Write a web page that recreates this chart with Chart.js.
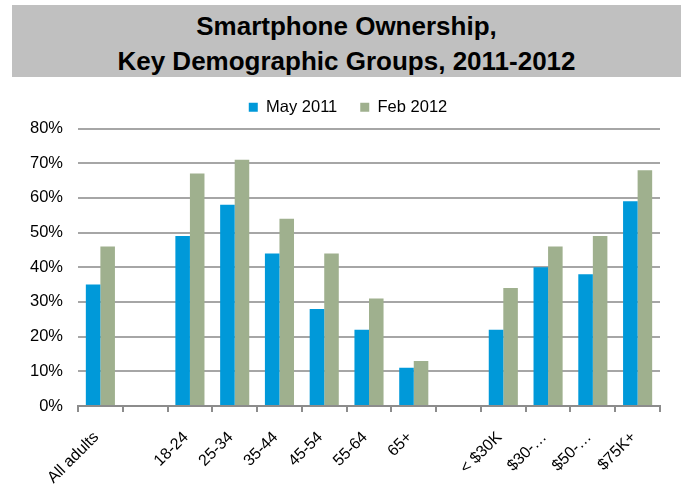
<!DOCTYPE html>
<html>
<head>
<meta charset="utf-8">
<script src="https://cdn.jsdelivr.net/npm/chart.js@4.4.0/dist/chart.umd.min.js"></script>
<style>
  html, body { margin: 0; padding: 0; background: #fff; }
  #wrap { position: relative; width: 681px; height: 495px; }
  #titleBand {
    position: absolute; left: 12px; top: 5px; width: 669px; height: 72px;
    background: #c0c0c0; color: #000;
    font-family: "Liberation Sans", Arial, sans-serif; font-weight: bold; font-size: 26px;
    line-height: 35px; text-align: center; padding-top: 4px; box-sizing: border-box;
  }
  #chartBox { position: absolute; left: 0; top: 0; width: 681px; height: 495px; }
</style>
</head>
<body>
<div id="wrap">
  <div id="chartBox"><canvas id="ownChart" width="681" height="495"></canvas></div>
  <div id="titleBand">Smartphone Ownership,<br>Key Demographic Groups, 2011-2012</div>
</div>
<script>
// categories (empty entries are the spacer gaps between groups)
var groups = ["All adults", "", "18-24", "25-34", "35-44", "45-54", "55-64", "65+", "", "< $30K", "$30-…", "$50-…", "$75K+"];
var may2011 = [35, null, 49, 58, 44, 28, 22, 11, null, 22, 40, 38, 59];
var feb2012 = [46, null, 67, 71, 54, 44, 31, 13, null, 34, 46, 49, 68];
var yTicks = [0, 10, 20, 30, 40, 50, 60, 70, 80];

Chart.defaults.font.family = "'Liberation Sans', Arial, sans-serif";
Chart.defaults.color = "#000";

// nudge the legend a bit right and up, the original isn't centred on the canvas
var legendNudge = {
  id: 'legendNudge',
  afterLayout: function(chart) {
    var lg = chart.legend;
    lg.left += 18; lg.right += 18;
    lg.top -= 3; lg.bottom -= 3;
  }
};

var ctx = document.getElementById("ownChart");

new Chart(ctx, {
  type: 'bar',
  data: {
    labels: groups,
    datasets: [
      {
        label: "May 2011",
        data: may2011,
        backgroundColor: "#0099d9",
        borderWidth: 0,
        categoryPercentage: 0.65,
        barPercentage: 1.0
      },
      {
        label: "Feb 2012",
        data: feb2012,
        backgroundColor: "#9fb08e",
        borderWidth: 0,
        categoryPercentage: 0.65,
        barPercentage: 1.0
      }
    ]
  },
  plugins: [legendNudge],
  options: {
    responsive: false,
    animation: false,
    layout: { padding: { top: 79, right: 21, bottom: 0, left: 0 } },
    plugins: {
      legend: {
        position: 'top',
        labels: {
          boxWidth: 9,
          boxHeight: 9,
          padding: 23,
          font: { size: 16.5 },
          color: "#000"
        }
      },
      tooltip: { enabled: false }
    },
    scales: {
      x: {
        afterFit: function(s) { s.height = 89; },
        grid: {
          offset: true,
          drawOnChartArea: false,
          drawTicks: true,
          tickLength: 6,
          color: "#8c8c8c",
          lineWidth: 2
        },
        border: { color: "#8c8c8c", width: 2 },
        ticks: {
          autoSkip: false,
          minRotation: 45,
          maxRotation: 45,
          padding: 16,
          labelOffset: -4,
          font: { size: 16 },
          color: "#000"
        }
      },
      y: {
        min: 0,
        max: 80,
        afterFit: function(s) { s.width = 78; },
        afterBuildTicks: function(s) { s.ticks = yTicks.map(function(v) { return { value: v }; }); },
        grid: {
          color: "#a6a6a6",
          lineWidth: 2,
          drawTicks: false
        },
        border: { display: false },
        ticks: {
          padding: 15,
          font: { size: 16.5 },
          color: "#000",
          callback: function(v) { return v + "%"; }
        }
      }
    }
  }
});
</script>
</body>
</html>
